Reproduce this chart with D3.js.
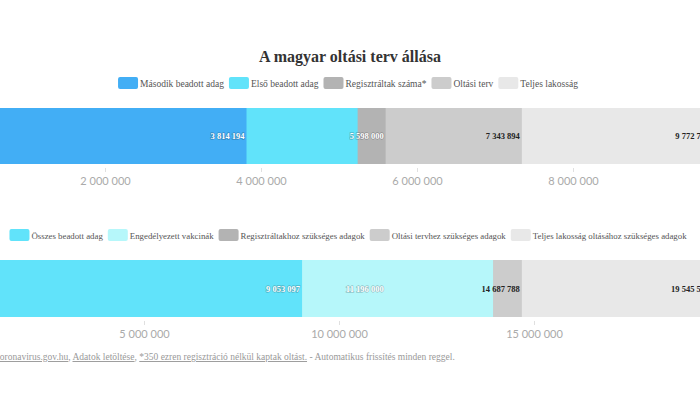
<!DOCTYPE html>
<html><head><meta charset="utf-8">
<script src="https://cdn.jsdelivr.net/npm/d3@7"></script>
<style>
html,body{margin:0;padding:0;background:#fff;overflow:hidden;}
svg{display:block;}
</style></head>
<body>
<svg id="c" width="700" height="420"></svg>
<script>
// ---- data ----
const title = "A magyar oltási terv állása";

const topNames  = ["Második beadott adag","Első beadott adag","Regisztráltak száma*","Oltási terv","Teljes lakosság"];
const topValues = [3814194, 5238903, 5598000, 7343894, 9772794];

const botNames  = ["Összes beadott adag","Engedélyezett vakcinák","Regisztráltakhoz szükséges adagok","Oltási tervhez szükséges adagok","Teljes lakosság oltásához szükséges adagok"];
const botValues = [9053097, 13950000, 11196000, 14687788, 19545588];

const topColors = ["#42aef5","#61e3fa","#b3b3b3","#cccccc","#e8e8e8"];
const botColors = ["#61e3fa","#b6f7fa","#b3b3b3","#cccccc","#e8e8e8"];
const topLabelColors = ["#fff","#fff","#fff","#222","#222"];
const botLabelColors = ["#fff","#fff","#fff","#222","#222"];

const footerParts = [
  {t:"koronavirus.gov.hu", u:true},
  {t:", ", u:false},
  {t:"Adatok letöltése", u:true},
  {t:", ", u:false},
  {t:"*350 ezren regisztráció nélkül kaptak oltást.", u:true},
  {t:" - Automatikus frissítés minden reggel.", u:false}
];

// ---- drawing ----
const svg = d3.select("#c");
const W = 700;
const serif = "'Liberation Serif', 'DejaVu Serif', serif";
const loc = d3.formatLocale({decimal:",", thousands:" ", grouping:[3], currency:["",""]});
const fmt = loc.format(",d");

svg.append("text")
  .attr("x", 350).attr("y", 62)
  .attr("text-anchor","middle")
  .style("font-family", serif).style("font-weight","bold")
  .style("font-size","16px").attr("fill","#333")
  .text(title);

function legend(names, colors, cy, cx, fs) {
  const g = svg.append("g");
  let x = 0;
  names.forEach((n,i)=>{
    const it = g.append("g").attr("transform",`translate(${x},0)`);
    it.append("rect").attr("x",0).attr("y",cy-6).attr("width",20).attr("height",12)
      .attr("rx",2).attr("fill",colors[i]);
    const t = it.append("text").attr("x",22).attr("y",cy+3.5)
      .style("font-family",serif).style("font-size",fs+"px").attr("fill","#555").text(n);
    x += 22 + t.node().getComputedTextLength() + 5;
  });
  const total = x - 5;
  g.attr("transform",`translate(${cx - total/2},0)`);
}

function chart(names, values, colors, labelColors, yTop, h) {
  const maxV = d3.max(values);
  const x = d3.scaleLinear().domain([0, maxV]).nice().range([-51, 729]);
  const drawOrder = d3.range(values.length).reverse();
  const g = svg.append("g");
  g.selectAll("rect.bar").data(drawOrder).join("rect")
    .attr("class","bar")
    .attr("x", x(0)).attr("y", yTop)
    .attr("width", i=>x(values[i])-x(0)).attr("height", h)
    .attr("fill", i=>colors[i]);

  // labels, hide those colliding with the next larger label
  const order = d3.range(values.length).sort((a,b)=>values[b]-values[a]);
  const lg = svg.append("g");
  let lastLeft = Infinity;
  order.forEach(i=>{
    const right = x(values[i]) - 2;
    const t = lg.append("text")
      .attr("x", right).attr("y", yTop + h/2 + 3)
      .attr("text-anchor","end")
      .style("font-family",serif).style("font-weight","bold").style("font-size","8.5px")
      .attr("fill", labelColors[i])
      .text(fmt(values[i]));
    if (labelColors[i] === "#fff") {
      t.attr("stroke","rgba(0,0,0,0.22)").attr("stroke-width",1.4)
       .style("paint-order","stroke");
    }
    const w = t.node().getComputedTextLength();
    if (right > lastLeft - 1) { t.remove(); }
    else { lastLeft = right - w; }
  });

  const tv = x.ticks(5).filter(v => x(v) > 20 && x(v) < W - 20);
  const ax = d3.axisBottom(x).tickValues(tv).tickSize(4).tickPadding(5).tickFormat(fmt);
  const a = svg.append("g").attr("transform",`translate(0,${yTop+h+4})`).call(ax);
  a.select(".domain").remove();
  a.selectAll(".tick line").attr("stroke","#e0e0e0");
  a.selectAll(".tick text").attr("fill","#aaa")
    .style("font-family","Lato, 'Open Sans', sans-serif").style("font-size","11px");
}

legend(topNames, topColors, 83, 348, 9.5);
chart(topNames, topValues, topColors, topLabelColors, 108, 56);
legend(botNames, botColors, 235, 348, 8.8);
chart(botNames, botValues, botColors, botLabelColors, 260, 57);

const ft = svg.append("text").attr("x",-5).attr("y",360)
  .style("font-family",serif).style("font-size","9.5px").attr("fill","#999");
footerParts.forEach(p=>{
  const s = ft.append("tspan").text(p.t);
  if (p.u) s.style("text-decoration","underline");
});
</script>
</body></html>
